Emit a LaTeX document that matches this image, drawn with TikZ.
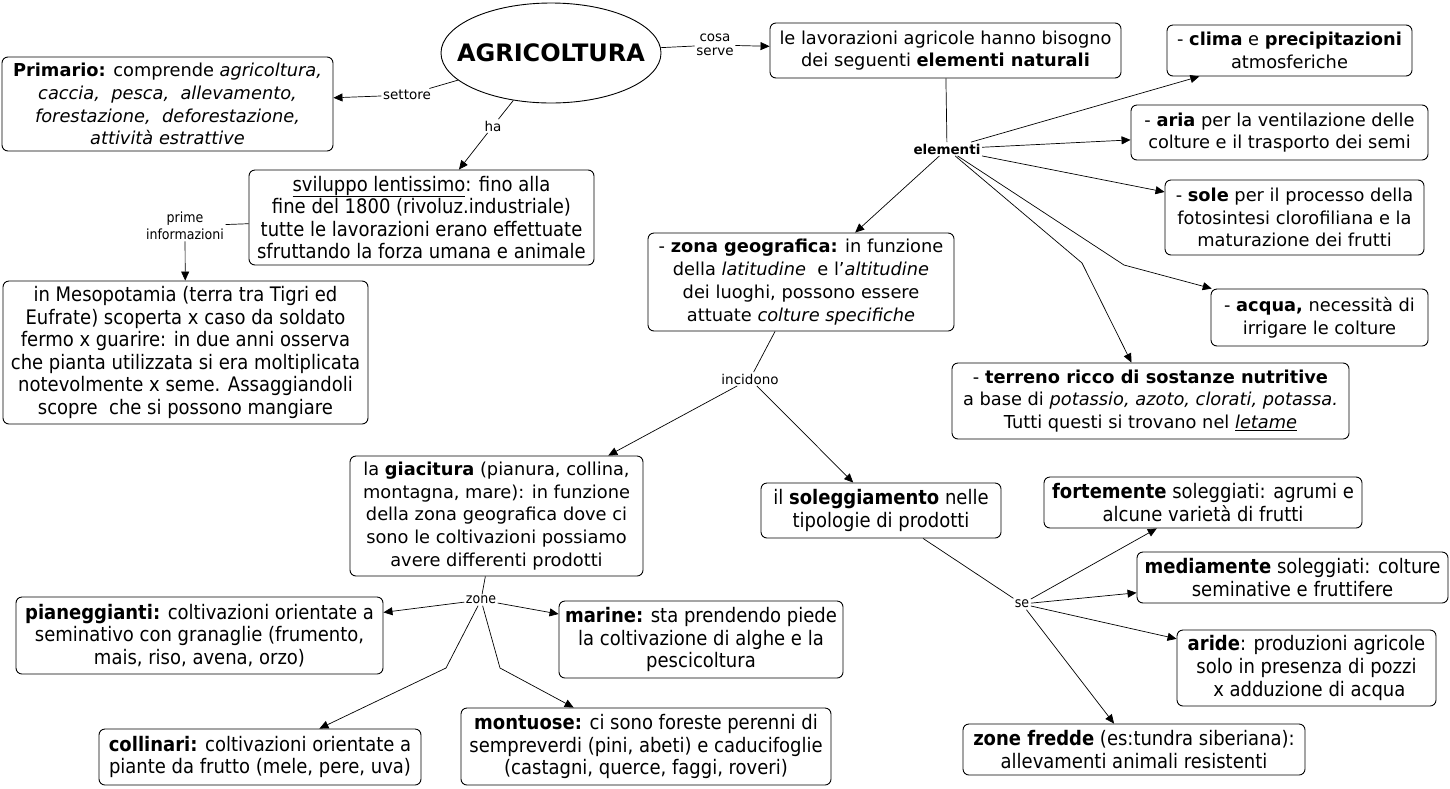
\documentclass[tikz,border=0pt]{standalone}
\usepackage{fontspec}
\setmainfont{DejaVu Sans}
\newfontfamily\condfam{DejaVu Sans Condensed}
\usetikzlibrary{shapes.geometric,arrows.meta}
\newcommand{\mainf}{\fontsize{17.8}{22.8}\selectfont}
\newcommand{\condf}{\condfam\fontsize{20}{22.6}\selectfont}
\newcommand{\lblf}{\fontsize{13.5}{15}\selectfont}
\newcommand{\clblf}{\condfam\fontsize{14}{17}\selectfont}
\tikzset{
  box/.style={draw, rounded corners=6pt, line width=0.9pt, align=center, inner sep=0pt, font=\mainf},
  cbox/.style={box, font=\condf},
  lbl/.style={inner sep=1.5pt, align=center, font=\lblf},
  clbl/.style={inner sep=1.5pt, align=center, font=\clblf},
  ln/.style={line width=0.7pt},
  arr/.style={ln, -{Triangle[length=9pt,width=8pt]}}
}
\begin{document}
\begin{tikzpicture}[x=1pt,y=-1pt]
\useasboundingbox[fill=white] (0,0) rectangle (1450,788);

\node[draw, ellipse, line width=0.9pt, minimum width=220, minimum height=100, inner sep=0pt] (agri) at (551,53) {};
\node[inner sep=0pt, font=\fontsize{24}{28}\selectfont\bfseries] (agritxt) at (agri.center) {AGRICOLTURA};

\node[box, minimum width=331, minimum height=94] (prim) at (167.5,104) {\textbf{Primario:} comprende \textit{agricoltura,}\\ \textit{caccia,\ \ pesca,\ \ allevamento,}\\ \textit{forestazione,\ \ deforestazione,}\\ \textit{attività estrattive}};
\node[box, minimum width=351, minimum height=55] (lavor) at (945.5,50.5) {le lavorazioni agricole hanno bisogno\\ dei seguenti \textbf{elementi naturali}};
\node[box, minimum width=245, minimum height=51] (clima) at (1289.5,50.5) {- \textbf{clima} e \textbf{precipitazioni}\\ atmosferiche};
\node[box, minimum width=297, minimum height=55] (aria) at (1279.5,132.5) {- \textbf{aria} per la ventilazione delle\\ colture e il trasporto dei semi};
\node[box, minimum width=259, minimum height=75] (sole) at (1294.5,217.5) {- \textbf{sole} per il processo della\\ fotosintesi clorofiliana e la\\ maturazione dei frutti};
\node[box, minimum width=306, minimum height=98] (zona) at (801,282) {- \textbf{zona geografica:} in funzione\\ della \textit{latitudine}\ \ e l'\textit{altitudine}\\ dei luoghi, possono essere\\ attuate \textit{colture specifiche}};
\node[box, minimum width=217, minimum height=57] (acqua) at (1319.5,317.5) {- \textbf{acqua,} necessità di\\ irrigare le colture};
\node[box, minimum width=397, minimum height=76] (terr) at (1150.5,401) {- \textbf{terreno ricco di sostanze nutritive}\\ a base di \textit{potassio, azoto, clorati, potassa.}\\ Tutti questi si trovano nel \underline{\textit{letame}}};
\node[cbox, minimum width=345, minimum height=95] (svil) at (421.5,217.5) {\underline{sviluppo lentissimo}: fino alla\\ fine del 1800 (rivoluz.industriale)\\ tutte le lavorazioni erano effettuate\\ sfruttando la forza umana e animale};
\node[cbox, minimum width=365, minimum height=143] (meso) at (185.5,352.5) {in Mesopotamia (terra tra Tigri ed\\ Eufrate) scoperta x caso da soldato\\ fermo x guarire: in due anni osserva\\ che pianta utilizzata si era moltiplicata\\ notevolmente x seme. Assaggiandoli\\ scopre\ \ che si possono mangiare};
\node[box, minimum width=293, minimum height=120] (giac) at (496.5,516) {la \textbf{giacitura} (pianura, collina,\\ montagna, mare): in funzione\\ della zona geografica dove ci\\ sono le coltivazioni possiamo\\ avere differenti prodotti};
\node[cbox, minimum width=240, minimum height=55] (soleg) at (881,510.5) {il \textbf{soleggiamento} nelle\\ tipologie di prodotti};
\node[cbox, minimum width=367, minimum height=77] (pian) at (199.5,635.5) {\textbf{pianeggianti:} coltivazioni orientate a\\ seminativo con granaglie (frumento,\\ mais, riso, avena, orzo)};
\node[cbox, minimum width=284, minimum height=77] (mar) at (701,639.5) {\textbf{marine:} sta prendendo piede\\ la coltivazione di alghe e la\\ pescicoltura};
\node[cbox, minimum width=322, minimum height=56] (coll) at (260,757) {\textbf{collinari:} coltivazioni orientate a\\ piante da frutto (mele, pere, uva)};
\node[cbox, minimum width=370, minimum height=77] (mont) at (646,746.5) {\textbf{montuose:} ci sono foreste perenni di\\ sempreverdi (pini, abeti) e caducifoglie\\ (castagni, querce, faggi, roveri)};
\node[cbox, minimum width=318, minimum height=51] (forte) at (1203,502.5) {\textbf{fortemente} soleggiati: agrumi e\\ alcune varietà di frutti};
\node[cbox, minimum width=311, minimum height=51] (media) at (1292.5,577.5) {\textbf{mediamente} soleggiati: colture\\ seminative e fruttifere};
\node[cbox, minimum width=259, minimum height=76] (aride) at (1306.5,668) {\textbf{aride}: produzioni agricole\\ solo in presenza di pozzi\\ \ x adduzione di acqua};
\node[cbox, minimum width=342, minimum height=51] (fredde) at (1134,749.5) {\textbf{zone fredde} (es:tundra siberiana):\\ allevamenti animali resistenti};

% labels
\node[lbl] (settore) at (407,95) {settore};
\node[lbl] (ha) at (493,126) {ha};
\node[lbl, font=\fontsize{13.5}{14.5}\selectfont] (cosa) at (715,45) {cosa\\ serve};
\node[lbl, font=\lblf\bfseries] (elem) at (947,149) {elementi};
\node[clbl, font=\condfam\fontsize{14}{16.5}\selectfont] (prime) at (185,226) {prime\\ informazioni};
\node[lbl] (incid) at (750,379) {incidono};
\node[clbl] (zone) at (481,600) {zone};
\node[clbl] (se) at (1022,604) {se};

\coordinate (kA) at (1124,265);
\coordinate (kT) at (1082,263);
\coordinate (kC) at (446,668);
\coordinate (kM) at (500,668);

% connectors
\draw[ln] (agri) -- (settore);
\draw[arr] (settore) -- (prim);
\draw[ln] (agri) -- (ha);
\draw[arr] (ha) -- (svil);
\draw[ln] (agri) -- (cosa);
\draw[arr] (cosa) -- (lavor);
\draw[ln] (lavor) -- (elem);
\draw[arr] (elem) -- (clima);
\draw[arr] (elem) -- (aria);
\draw[arr] (elem) -- (sole);
\draw[arr] (elem) -- (kA) -- (acqua);
\draw[arr] (elem) -- (kT) -- (terr);
\draw[arr] (elem) -- (zona);
\draw[ln] (svil) -- (prime);
\draw[arr] (prime) -- (meso);
\draw[ln] (zona) -- (incid);
\draw[arr] (incid) -- (giac);
\draw[arr] (incid) -- (soleg);
\draw[ln] (giac) -- (zone);
\draw[arr] (zone) -- (pian);
\draw[arr] (zone) -- (mar);
\draw[arr] (zone) -- (kC) -- (coll);
\draw[arr] (zone) -- (kM) -- (mont);
\draw[ln] (soleg) -- (se);
\draw[arr] (se) -- (forte);
\draw[arr] (se) -- (media);
\draw[arr] (se) -- (aride);
\draw[arr] (se) -- (fredde);
\end{tikzpicture}
\end{document}
